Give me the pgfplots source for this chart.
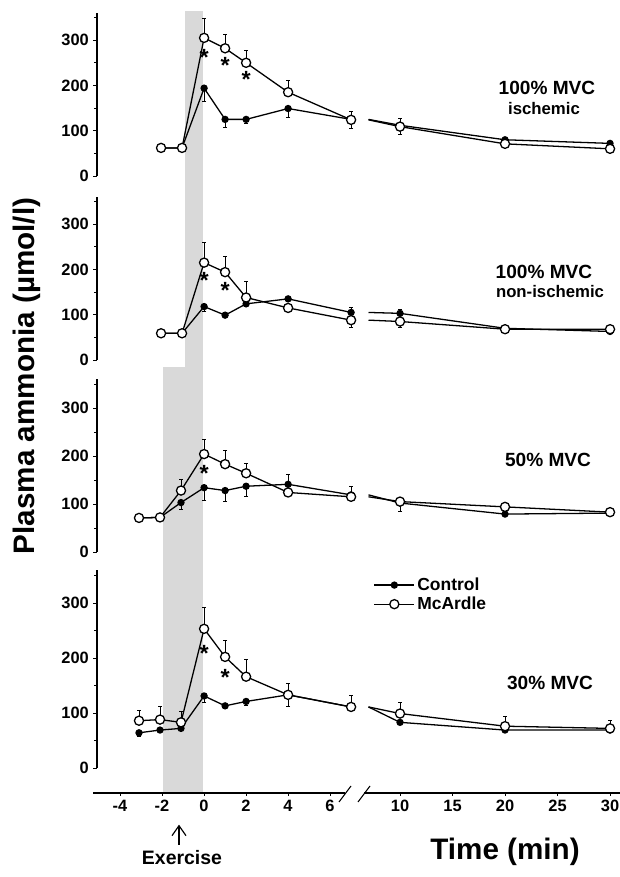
\documentclass[border=0pt]{standalone}
\usepackage{pgfplots}
\pgfplotsset{compat=1.18}
\usetikzlibrary{arrows.meta}
\usepackage{fontspec}
\setmainfont{Liberation Sans}
\definecolor{shade}{HTML}{D9D9D9}

\pgfplotsset{
  panel/.style={scale only axis, width=7.938cm, xmin=-5.1, xmax=7.5, ymin=0, ymax=360,
    hide x axis, axis y line*=left, y axis line style={-, line width=0.9pt},
    ytick={0,100,200,300}, minor ytick={50,150,250,350},
    tick align=outside, major tick length=0.12cm, minor tick length=0.09cm,
    every tick/.style={line width=0.8pt, black},
    tick label style={font=\bfseries\fontsize{14}{14}\selectfont},
    /pgf/number format/assume math mode=true, anchor=south west, clip=false},
  rpanel/.style={scale only axis, width=7.608cm, xmin=6.8, xmax=30.95, ymin=0, ymax=360,
    hide axis, anchor=south west},
  bax/.style={scale only axis, height=0.1cm, ymin=0, ymax=1, hide y axis,
    axis x line*=bottom, x axis line style={-, line width=0.9pt},
    tick align=outside, major tick length=0.09cm, every tick/.style={line width=0.8pt, black},
    tick label style={font=\bfseries\fontsize{14}{14}\selectfont},
    /pgf/number format/assume math mode=true, anchor=south west},
  ctl/.style={black, line width=1.1pt, mark=*, mark size=2.56pt, mark options={solid, fill=black},
    error bars/.cd, y dir=both, y explicit, error bar style={line width=0.8pt},
    error mark options={rotate=90, mark size=1.7pt, line width=0.8pt}},
  mca/.style={black, line width=1.1pt, mark=*, mark size=3.9pt, mark options={solid, fill=white},
    error bars/.cd, y dir=both, y explicit, error bar style={line width=0.8pt},
    error mark options={rotate=90, mark size=1.7pt, line width=0.8pt}},
  stub/.style={black, line width=1.1pt, no marks, forget plot},
}
\newcommand{\ttl}{\bfseries\fontsize{16.3}{18}\selectfont}
\newcommand{\sub}{\bfseries\fontsize{14.3}{16}\selectfont}
\newcommand{\sig}{\bfseries\fontsize{20}{20}\selectfont *}

\begin{document}
\begin{tikzpicture}
\path[use as bounding box] (0,0) rectangle (18.6,26.31);

% exercise periods
\begin{axis}[scale only axis, width=7.938cm, height=23.79cm, xmin=-5.1, xmax=7.5,
  ymin=0, ymax=793, hide axis, anchor=south west, at={(2.91cm,2.52cm)}]
\addplot[fill=shade, draw=none] coordinates {(-1.95,0)(-1.95,426)(-0.15,426)(-0.15,0)} -- cycle;
\addplot[fill=shade, draw=none] coordinates {(-0.92,0)(-0.92,782)(-0.07,782)(-0.07,0)} -- cycle;
\end{axis}

% ---- 100% MVC ischemic
\begin{axis}[panel, height=4.89cm, at={(2.91cm,21.03cm)}]
\addplot[ctl] coordinates {(-2.05,62) (-1.05,62) (0,194) -= (0,30) (1,125) -= (0,18)
  (2,125) -= (0,10) (4,149) -= (0,19) (7,125) -= (0,8)};
\addplot[mca] coordinates {(-2.05,62) (-1.05,62) (0,305) += (0,43) (1,282) += (0,31)
  (2,250) += (0,28) (4,185) += (0,27) (7,124) +- (0,19)};
\node[yshift=-4.3pt] at (0,272) {\sig};
\node[yshift=-4.3pt] at (1,255) {\sig};
\node[yshift=-4.3pt] at (2,225) {\sig};
\end{axis}
\begin{axis}[rpanel, height=4.89cm, at={(10.992cm,21.03cm)}]
\addplot[stub] coordinates {(7,125)(10,112)};
\addplot[ctl] coordinates {(10,112) -= (0,20) (20,80) (30,72)};
\addplot[stub] coordinates {(7,124)(10,109)};
\addplot[mca] coordinates {(10,109) += (0,17) (20,71) (30,60)};
\end{axis}

% ---- 100% MVC non-ischemic
\begin{axis}[panel, height=4.89cm, at={(2.91cm,15.51cm)}]
\addplot[ctl] coordinates {(-2.05,59) (-1.05,59) (0,118) -= (0,11) (1,99) (2,124)
  (4,135) (7,105) += (0,10)};
\addplot[mca] coordinates {(-2.05,59) (-1.05,59) (0,215) += (0,44) (1,194) += (0,34)
  (2,138) += (0,36) (4,115) (7,88) -= (0,17)};
\node[yshift=-4.3pt] at (0,186) {\sig};
\node[yshift=-4.3pt] at (1,164) {\sig};
\end{axis}
\begin{axis}[rpanel, height=4.89cm, at={(10.992cm,15.51cm)}]
\addplot[stub] coordinates {(7,105)(10,103)};
\addplot[ctl] coordinates {(10,103) += (0,8) (20,70) (30,63)};
\addplot[stub] coordinates {(7,88)(10,85)};
\addplot[mca] coordinates {(10,85) -= (0,14) (20,68) (30,68)};
\end{axis}

% ---- 50% MVC
\begin{axis}[panel, height=5.184cm, at={(2.91cm,9.75cm)}]
\addplot[ctl] coordinates {(-3.1,71) (-2.1,72) (-1.1,103) -= (0,15) (0,134) -= (0,26)
  (1,128) -= (0,23) (2,137) -= (0,22) (4,141) += (0,21) (7,119)};
\addplot[mca] coordinates {(-3.1,71) (-2.1,72) (-1.1,128) += (0,24) (0,204) += (0,31)
  (1,183) += (0,28) (2,164) += (0,21) (4,124) (7,115) += (0,22)};
\node[yshift=-4.3pt] at (0,174) {\sig};
\end{axis}
\begin{axis}[rpanel, height=5.184cm, at={(10.992cm,9.75cm)}]
\addplot[stub] coordinates {(7,119)(10,102)};
\addplot[ctl] coordinates {(10,102) (20,79) (30,81)};
\addplot[stub] coordinates {(7,115)(10,105)};
\addplot[mca] coordinates {(10,105) -= (0,21) (20,94) (30,83)};
\end{axis}

% ---- 30% MVC
\begin{axis}[panel, height=5.94cm, at={(2.91cm,3.27cm)}]
\addplot[ctl] coordinates {(-3.1,64) -= (0,6) (-2.1,69) (-1.1,72) (0,131) -= (0,11)
  (1,113) (2,121) -= (0,8) (4,133) (7,111)};
\addplot[mca] coordinates {(-3.1,86) += (0,18) (-2.1,88) += (0,23) (-1.1,83) += (0,19)
  (0,253) += (0,39) (1,202) += (0,29) (2,166) += (0,32) (4,133) +- (0,21) (7,111) += (0,20)};
\node[yshift=-4.3pt] at (0,217) {\sig};
\node[yshift=-4.3pt] at (1,174) {\sig};
\end{axis}
\begin{axis}[rpanel, height=5.94cm, at={(10.992cm,3.27cm)},
  legend style={at={(0.014,0.985)}, anchor=north west, draw=none, fill=none,
    font=\bfseries\fontsize{14.9}{18}\selectfont, legend cell align=left},
  legend image code/.code={\draw[mark repeat=2,mark phase=2,#1] plot coordinates {(0cm,0cm) (0.6cm,0cm) (1.2cm,0cm)};}]
\addplot[stub] coordinates {(7,111)(10,83)};
\addplot[ctl] coordinates {(10,83) (20,69) (30,69)};
\addlegendentry{Control}
\addplot[stub] coordinates {(7,111)(10,99)};
\addplot[mca] coordinates {(10,99) += (0,21) (20,76) += (0,17) (30,72) += (0,15)};
\addlegendentry{McArdle}
\end{axis}

% ---- time axis
\begin{axis}[bax, width=7.56cm, xmin=-5.286, xmax=6.714, at={(2.79cm,2.52cm)},
  xtick={-4,-2,0,2,4,6}]
\end{axis}
\begin{axis}[bax, width=7.68cm, xmin=6.571, xmax=30.952, at={(10.92cm,2.52cm)},
  xtick={10,15,20,25,30}]
\end{axis}
\draw[line width=0.9pt] (10.17,2.25) -- (10.53,2.73);
\draw[line width=0.9pt] (10.74,2.25) -- (11.10,2.73);

% labels
\node[font=\ttl] at (16.41,23.67) {100\% MVC};
\node[font=\sub] at (16.32,23.04) {ischemic};
\node[font=\ttl] at (16.32,18.15) {100\% MVC};
\node[font=\sub] at (16.50,17.55) {non-ischemic};
\node[font=\ttl] at (16.44,12.51) {50\% MVC};
\node[font=\ttl] at (16.50,5.82) {30\% MVC};
\node[font=\bfseries\fontsize{25.3}{28}\selectfont, rotate=90] at (0.81,15.03) {Plasma ammonia (µmol/l)};
\node[font=\bfseries\fontsize{25.3}{28}\selectfont] at (15.15,0.75) {Time (min)};
\node[font=\bfseries\fontsize{16.6}{18}\selectfont] at (5.46,0.57) {Exercise};
\draw[line width=1pt, -{Straight Barb[length=0.3cm, width=0.42cm]}] (5.37,0.96) -- (5.37,1.57);
\end{tikzpicture}
\end{document}
